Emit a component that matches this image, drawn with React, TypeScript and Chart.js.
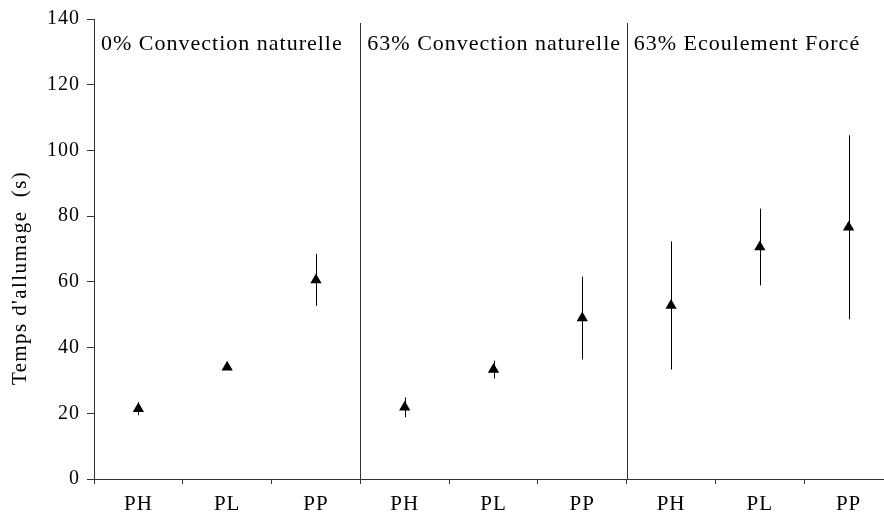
import React, { useEffect, useRef } from "react";
import { Chart, registerables } from "chart.js";

Chart.register(...registerables);

// Sample types, repeated for each test condition
const categories = ["PH", "PL", "PP", "PH", "PL", "PP", "PH", "PL", "PP"];
// Test conditions, each covering three consecutive categories
const panelTitles = [
  "0% Convection naturelle",
  "63% Convection naturelle",
  "63% Ecoulement Forcé",
];
// Mean ignition time (s)
const ignitionTime = [21.4, 34.0, 60.6, 21.8, 33.3, 49.0, 52.8, 70.6, 76.6];
// Half-width of the error bar (s)
const ignitionError = [2.0, 0.8, 7.9, 3.0, 2.7, 12.6, 19.5, 11.7, 28.0];
// Y axis ticks
const yTicks = [0, 20, 40, 60, 80, 100, 120, 140];
const yTitle = "Temps d'allumage  (s)";

const SERIF = "'Liberation Serif', 'Times New Roman', serif";
const INK = "#000000";
const AXIS = "#333333";

const spacingPlugin = {
  id: "letterSpacing",
  beforeUpdate(chart: any) {
    chart.ctx.letterSpacing = "1px";
  },
  beforeDraw(chart: any) {
    chart.ctx.letterSpacing = "1px";
  },
};

const errorBarPlugin = {
  id: "errorBars",
  beforeDatasetsDraw(chart: any) {
    const { ctx } = chart;
    const x = chart.scales.x;
    const y = chart.scales.y;
    ctx.save();
    ctx.strokeStyle = INK;
    ctx.lineWidth = 1;
    ignitionTime.forEach((v, i) => {
      const px = Math.round(x.getPixelForValue(i)) + 0.5;
      ctx.beginPath();
      ctx.moveTo(px, y.getPixelForValue(v + ignitionError[i]));
      ctx.lineTo(px, y.getPixelForValue(v - ignitionError[i]));
      ctx.stroke();
    });
    ctx.restore();
  },
};

const panelPlugin = {
  id: "panels",
  afterDraw(chart: any) {
    const { ctx, chartArea } = chart;
    const x = chart.scales.x;
    const y = chart.scales.y;
    ctx.save();
    // separators between conditions
    ctx.strokeStyle = AXIS;
    ctx.lineWidth = 1;
    [2.5, 5.5].forEach((b) => {
      const px = Math.round(x.getPixelForValue(b)) + 0.5;
      ctx.beginPath();
      ctx.moveTo(px, chartArea.top + 4);
      ctx.lineTo(px, chartArea.bottom);
      ctx.stroke();
    });
    // condition titles
    ctx.fillStyle = INK;
    ctx.font = `22px ${SERIF}`;
    ctx.letterSpacing = "1px";
    ctx.textAlign = "left";
    ctx.textBaseline = "alphabetic";
    panelTitles.forEach((t, k) => {
      const left = x.getPixelForValue(k * 3 - 0.5) + 7;
      ctx.fillText(t, left, chartArea.top + 31);
    });
    // y axis title
    ctx.font = `21px ${SERIF}`;
    ctx.letterSpacing = "1.4px";
    ctx.textAlign = "center";
    ctx.textBaseline = "middle";
    ctx.translate(20, (y.top + y.bottom) / 2 + 29);
    ctx.rotate(-Math.PI / 2);
    ctx.fillText(yTitle, 0, 0);
    ctx.restore();
  },
};

export default function App() {
  const ref = useRef<HTMLCanvasElement | null>(null);

  useEffect(() => {
    if (!ref.current) return;
    const chart = new Chart(ref.current, {
      type: "line",
      data: {
        labels: categories,
        datasets: [
          {
            data: ignitionTime,
            showLine: false,
            pointStyle: "triangle",
            pointRadius: 6.5,
            pointBackgroundColor: INK,
            pointBorderColor: INK,
            pointBorderWidth: 0,
          },
        ],
      },
      options: {
        responsive: false,
        animation: false,
        layout: { padding: { top: 17, right: 7, left: 0, bottom: 0 } },
        plugins: {
          legend: { display: false },
          tooltip: { enabled: false },
        },
        scales: {
          x: {
            type: "category",
            offset: true,
            grid: {
              offset: true,
              drawOnChartArea: false,
              drawTicks: true,
              tickLength: 5,
              color: AXIS,
            },
            border: { display: true, color: AXIS },
            ticks: {
              color: INK,
              font: { family: SERIF, size: 21 },
              padding: 8,
              maxRotation: 0,
              autoSkip: false,
            },
            afterFit(scale: any) {
              scale.height = 36;
            },
          },
          y: {
            min: 0,
            max: 140,
            afterBuildTicks(scale: any) {
              scale.ticks = yTicks.map((v) => ({ value: v }));
            },
            grid: {
              drawOnChartArea: false,
              drawTicks: true,
              tickLength: 7,
              color: AXIS,
            },
            border: { display: true, color: AXIS },
            ticks: {
              color: INK,
              font: { family: SERIF, size: 20 },
              padding: 7,
            },
            afterFit(scale: any) {
              scale.width = 94;
            },
          },
        },
      },
      plugins: [spacingPlugin, errorBarPlugin, panelPlugin],
    });
    return () => chart.destroy();
  }, []);

  return (
    <div
      style={{
        position: "fixed",
        left: 0,
        top: 0,
        width: 884,
        height: 515,
        overflow: "hidden",
        background: "#fff",
      }}
    >
      <canvas ref={ref} width={900} height={515} style={{ display: "block" }} />
    </div>
  );
}
